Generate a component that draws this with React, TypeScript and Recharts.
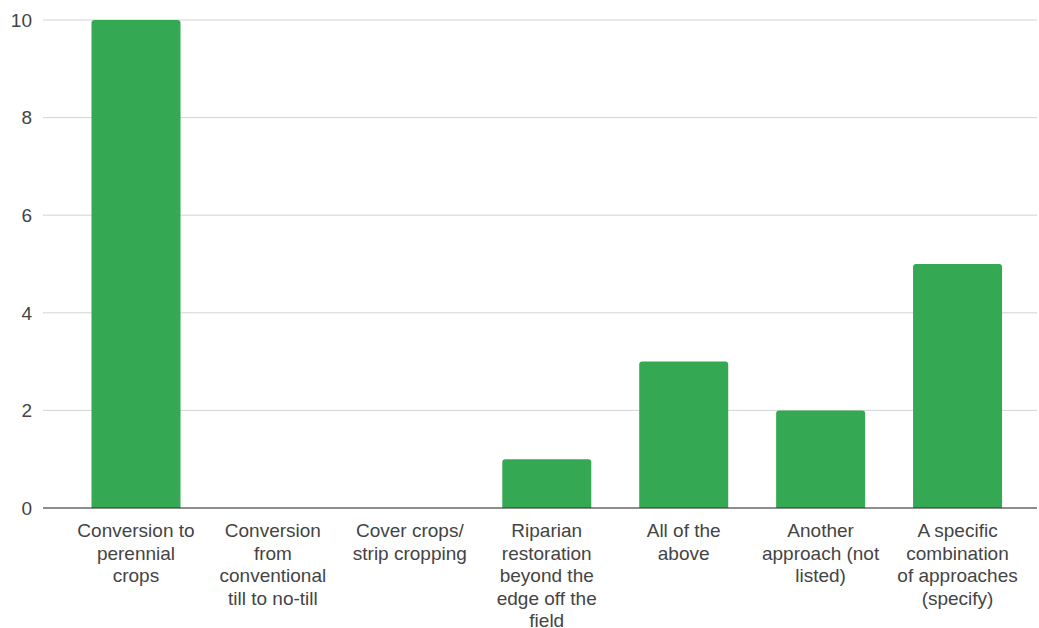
import { Bar, BarChart, CartesianGrid, XAxis, YAxis } from "recharts";

// category names, with "\n" where each axis label breaks
const categories = [
  "Conversion to\nperennial\ncrops",
  "Conversion\nfrom\nconventional\ntill to no-till",
  "Cover crops/\nstrip cropping",
  "Riparian\nrestoration\nbeyond the\nedge off the\nfield",
  "All of the\nabove",
  "Another\napproach (not\nlisted)",
  "A specific\ncombination\nof approaches\n(specify)",
];

const counts = [10, 0, 0, 1, 3, 2, 5];

const yTicks = [0, 2, 4, 6, 8, 10];

const data = categories.map((name, i) => ({ name, count: counts[i] }));

const FONT = "Arial, 'Liberation Sans', sans-serif";

function CategoryTick({ x, y, payload }: any) {
  const lines = String(payload.value).split("\n");
  return (
    <text
      x={x}
      y={y + 29}
      textAnchor="middle"
      fontSize={19}
      fontFamily={FONT}
      fill="#444"
    >
      {lines.map((line, i) => (
        <tspan key={i} x={x} dy={i === 0 ? 0 : 22.5}>
          {line}
        </tspan>
      ))}
    </text>
  );
}

export default function App() {
  return (
    <div style={{ position: "absolute", left: 0, top: 0, background: "#fff" }}>
      <BarChart
        width={1039}
        height={628}
        data={data}
        margin={{ top: 20, right: 2, bottom: 0, left: 0 }}
      >
        <CartesianGrid vertical={false} stroke="#d3d3d3" />
        <XAxis
          dataKey="name"
          interval={0}
          height={120}
          padding={{ left: 24.5, right: 11 }}
          tickLine={false}
          tickSize={0}
          tickMargin={0}
          axisLine={{ stroke: "#333" }}
          tick={<CategoryTick />}
        />
        <YAxis
          width={43}
          domain={[0, 10]}
          ticks={yTicks}
          axisLine={false}
          tickLine={false}
          tickSize={0}
          tickMargin={11}
          tick={{ fill: "#444", fontSize: 19, fontFamily: FONT }}
        />
        <Bar
          dataKey="count"
          fill="#34a853"
          barSize={89}
          radius={[3, 3, 0, 0]}
          isAnimationActive={false}
        />
      </BarChart>
    </div>
  );
}
